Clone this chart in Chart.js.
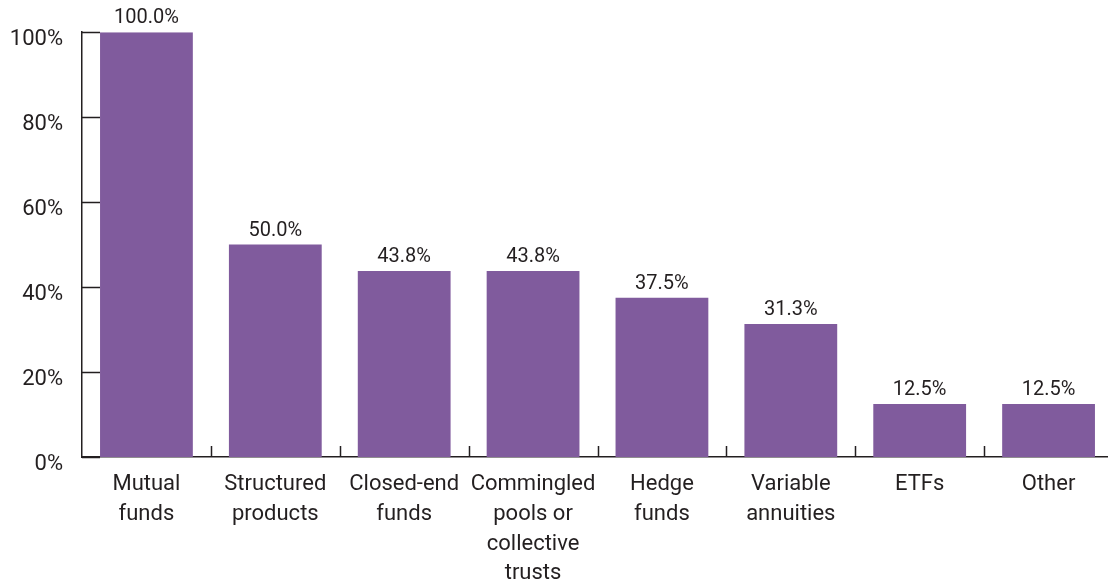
<!DOCTYPE html>
<html lang="en">

<head>
    <meta charset="UTF-8">
    <title>Product types</title>
    <script src="https://cdn.jsdelivr.net/npm/chart.js"></script>
    <style>
        html, body { margin: 0; padding: 0; overflow: hidden; background: #fff; }
        .chart-box { width: 1116px; height: 600px; }
    </style>
</head>

<body>
    <div class="chart-box">
        <canvas id="productChart"></canvas>
    </div>

    <script>
        const categories = [
            ['Mutual', 'funds'],
            ['Structured', 'products'],
            ['Closed-end', 'funds'],
            ['Commingled', 'pools or', 'collective', 'trusts'],
            ['Hedge', 'funds'],
            ['Variable', 'annuities'],
            ['ETFs'],
            ['Other']
        ];
        const shares = [100.0, 50.0, 43.8, 43.8, 37.5, 31.3, 12.5, 12.5];
        const yTicks = [0, 20, 40, 60, 80, 100];

        const textColor = '#231f20';
        const fontFamily = '"Liberation Sans Narrow", "Roboto", sans-serif';

        // value labels above bars + short inward tick marks
        const extras = {
            id: 'extras',
            afterDatasetsDraw(chart) {
                const ctx = chart.ctx;
                const meta = chart.getDatasetMeta(0);
                ctx.save();
                ctx.fillStyle = textColor;
                ctx.font = '20px ' + fontFamily;
                ctx.textAlign = 'center';
                ctx.textBaseline = 'bottom';
                meta.data.forEach((bar, i) => {
                    ctx.fillText(shares[i].toFixed(1) + '%', bar.x, bar.y - 4);
                });

                const x = chart.scales.x;
                const y = chart.scales.y;
                ctx.strokeStyle = '#231f20';
                ctx.lineWidth = 1.5;
                ctx.beginPath();
                yTicks.forEach(v => {
                    const py = Math.round(y.getPixelForValue(v)) + 0.5;
                    ctx.moveTo(x.left, py);
                    ctx.lineTo(x.left + 18, py);
                });
                for (let i = 0; i < categories.length - 1; i++) {
                    const px = Math.round((x.getPixelForValue(i) + x.getPixelForValue(i + 1)) / 2) + 0.5;
                    ctx.moveTo(px, y.bottom);
                    ctx.lineTo(px, y.bottom - 11);
                }
                ctx.stroke();
                ctx.restore();
            }
        };

        const ctx = document.getElementById('productChart').getContext('2d');
        new Chart(ctx, {
            type: 'bar',
            data: {
                labels: categories,
                datasets: [{
                    data: shares,
                    backgroundColor: '#805b9d',
                    borderWidth: 0,
                    barPercentage: 0.72,
                    categoryPercentage: 1
                }]
            },
            options: {
                responsive: true,
                maintainAspectRatio: false,
                animation: false,
                layout: { padding: { top: 31, right: 3, left: 0, bottom: 0 } },
                plugins: {
                    legend: { display: false },
                    tooltip: { enabled: false }
                },
                scales: {
                    x: {
                        grid: { display: false, drawTicks: false },
                        border: { display: true, color: '#231f20', width: 1.5 },
                        ticks: {
                            color: textColor,
                            font: { family: fontFamily, size: 22, lineHeight: 1.35 },
                            padding: 13,
                            maxRotation: 0,
                            autoSkip: false
                        },
                        afterFit(scale) { scale.height = 143; }
                    },
                    y: {
                        min: 0,
                        max: 100,
                        grid: { display: false, drawTicks: false },
                        border: { display: true, color: '#231f20', width: 1.5 },
                        ticks: {
                            stepSize: 20,
                            color: textColor,
                            font: { family: fontFamily, size: 22 },
                            padding: 19,
                            labelOffset: 7,
                            callback: v => v + '%'
                        },
                        afterFit(scale) { scale.width = 82; }
                    }
                }
            },
            plugins: [extras]
        });
    </script>
</body>

</html>
